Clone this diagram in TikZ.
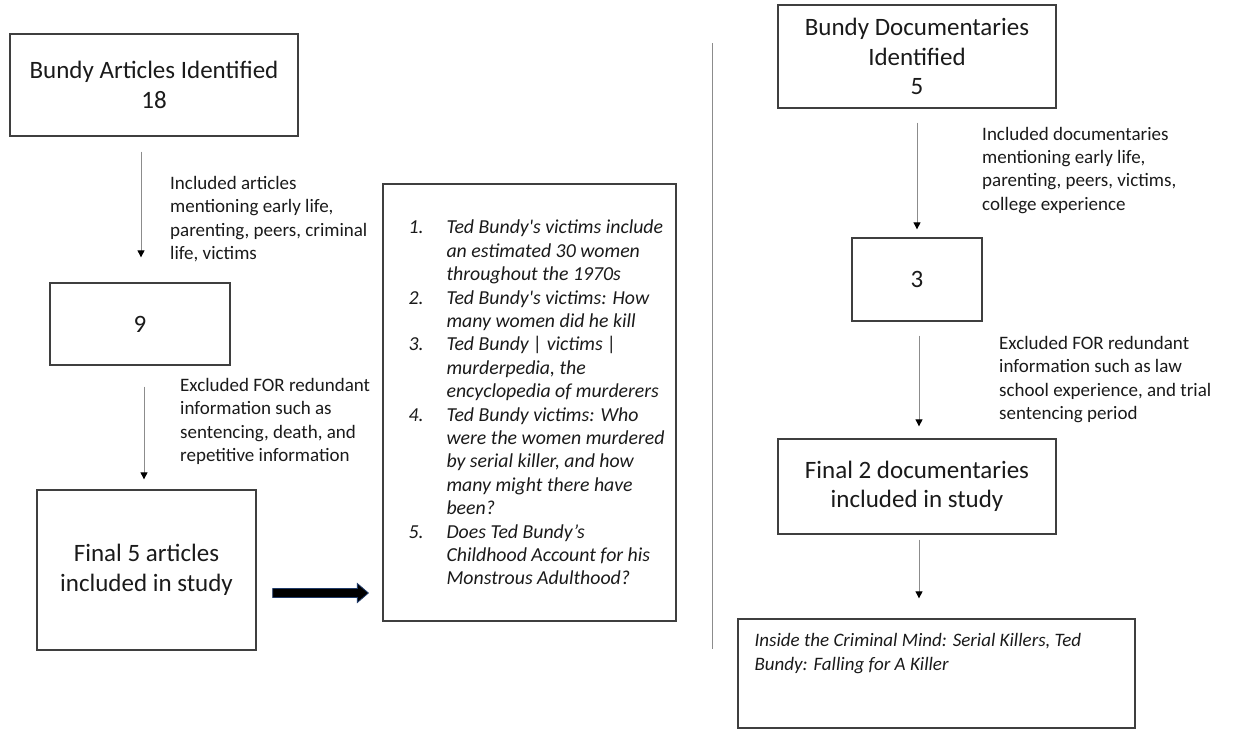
\documentclass[tikz,border=0pt]{standalone}
\usepackage{fontspec}
\setmainfont{Carlito}
\usetikzlibrary{arrows.meta,calc}

\definecolor{boxgray}{HTML}{3F3F3F}
\definecolor{linegray}{HTML}{8C8C8C}
\definecolor{navyedge}{HTML}{1F3A68}
\definecolor{inkcol}{HTML}{1A1A1A}

% list helpers: item number column and continuation indent
\newcommand\lnum[1]{\makebox[38pt][l]{#1}}
\newcommand\lind{\hspace*{38pt}}

\begin{document}
\begin{tikzpicture}[x=1pt,y=-1pt,
  box/.style={draw=boxgray,line width=1.3pt,inner sep=0pt,align=center,
    text=inkcol,font=\fontsize{25}{29.5}\selectfont},
  note/.style={anchor=north west,inner sep=0pt,align=left,text=inkcol,
    font=\fontsize{19}{23.3}\selectfont},
  flow/.style={draw=linegray,line width=0.9pt,-{Triangle[width=7pt,length=7pt,black]}},
]
\useasboundingbox (0,0) rectangle (1241,729);

% articles column
\node[box,minimum width=288pt,minimum height=102pt] (A) at (154,85) {Bundy Articles Identified\\18};
\node[box,minimum width=180pt,minimum height=82pt] (B) at (140,324) {9};
\node[box,minimum width=219pt,minimum height=160pt] (C) at (146.5,570) {Final 5 articles\\included in study};
\node[box,minimum width=293pt,minimum height=437pt] (D) at (529.5,402.5) {};

% documentaries column
\node[box,minimum width=278pt,minimum height=103pt] (E) at (917,56.5) {Bundy Documentaries\\Identified\\5};
\node[box,minimum width=130pt,minimum height=83pt] (F) at (917,279.5) {3};
\node[box,minimum width=278pt,minimum height=95pt] (G) at (917,486.5) {Final 2 documentaries\\included in study};
\node[box,minimum width=397pt,minimum height=109pt] (H) at (936.5,673.5) {};

% list of selected articles
\node[note,anchor=west,font=\fontsize{19.8}{23.4}\selectfont\itshape] (Dtext) at ([xshift=26]D.west) {%
\lnum{1.}Ted Bundy\textquotesingle s victims include\\
\lind an estimated 30 women\\
\lind throughout the 1970s\\
\lnum{2.}Ted Bundy\textquotesingle s victims: How\\
\lind many women did he kill\\
\lnum{3.}Ted Bundy | victims |\\
\lind murderpedia, the\\
\lind encyclopedia of murderers\\
\lnum{4.}Ted Bundy victims: Who\\
\lind were the women murdered\\
\lind by serial killer, and how\\
\lind many might there have\\
\lind been?\\
\lnum{5.}Does Ted Bundy’s\\
\lind Childhood Account for his\\
\lind Monstrous Adulthood?};

% selected documentaries
\node[note,font=\fontsize{19}{24}\selectfont\itshape] (Htext) at ([shift={(17,15)}]H.north west)
  {Inside the Criminal Mind: Serial Killers, Ted\\Bundy: Falling for A Killer};

% step labels
\node[note] (l1) at (170,176) {Included articles\\mentioning early life,\\parenting, peers, criminal\\life, victims};
\node[note] (l2) at (180,378) {Excluded FOR redundant\\information such as\\sentencing, death, and\\repetitive information};
\node[note] (l3) at (982,127) {Included documentaries\\mentioning early life,\\parenting, peers, victims,\\college experience};
\node[note] (l4) at (999,336) {Excluded FOR redundant\\information such as law\\school experience, and trial\\sentencing period};

% flow arrows
\draw[flow] ([shift={(-13,15)}]A.south) -- ([shift={(1,-25)}]B.north);
\draw[flow] ([shift={(4,21)}]B.south) -- ([shift={(-2.5,-10)}]C.north);
\draw[flow] ([shift={(0,14)}]E.south) -- ([shift={(0,-8)}]F.north);
\draw[flow] ([shift={(2,14)}]F.south) -- ([shift={(2,-12)}]G.north);
\draw[flow] ([shift={(2,5)}]G.south) -- ([shift={(-17.5,-20)}]H.north);

% block arrow from final articles to the list
\coordinate (fs) at ([shift={(16,23)}]C.east);
\coordinate (fe) at ([shift={(-14,190.5)}]D.west);
\filldraw[fill=black,draw=navyedge,line width=0.8pt,line join=miter]
  ($(fs)+(0,-4.5)$) -- ($(fe)+(-11,-4.5)$) -- ($(fe)+(-11,-9.5)$) -- (fe)
  -- ($(fe)+(-11,9.5)$) -- ($(fe)+(-11,4.5)$) -- ($(fs)+(0,4.5)$) -- cycle;

% divider between the two columns
\coordinate (dtop) at (712,43);
\coordinate (dbot) at (712,649);
\draw[linegray,line width=1pt] (dtop) -- (dbot);
\end{tikzpicture}
\end{document}
